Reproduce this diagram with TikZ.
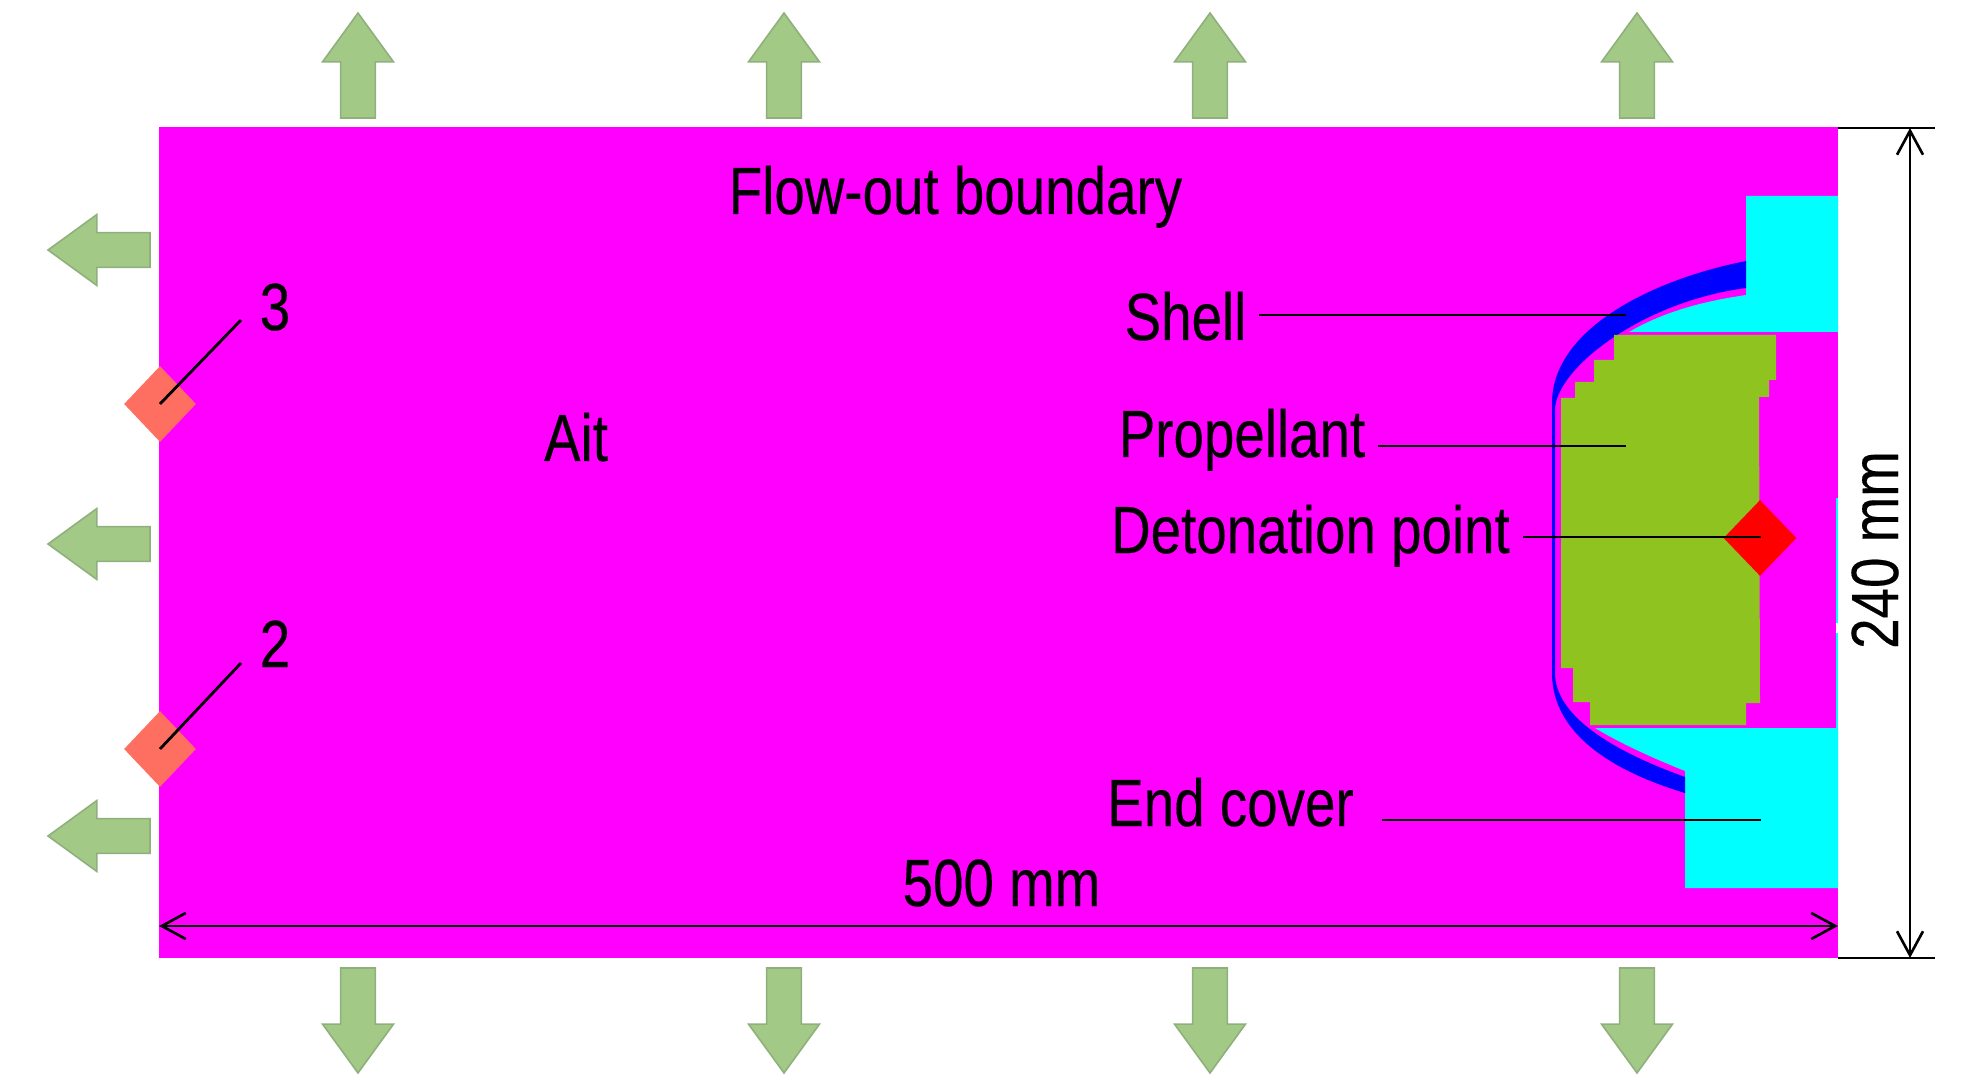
\documentclass[tikz,border=0pt]{standalone}
\usepackage{fontspec}
\setmainfont[FakeStretch=0.82,FakeBold=0.25]{Liberation Sans}
\usetikzlibrary{arrows.meta,shapes.geometric,shapes.arrows}
\definecolor{airfill}{HTML}{FF00FF}
\definecolor{coverfill}{HTML}{00FFFF}
\definecolor{shellfill}{HTML}{0000FF}
\definecolor{propfill}{HTML}{8FC31F}
\definecolor{gaugefill}{HTML}{FF6F61}
\definecolor{flowfill}{HTML}{A2C986}
\definecolor{flowline}{HTML}{8FAF7C}
\tikzset{
	lbl/.style={font=\fontsize{38}{46}\selectfont, text=black, inner ysep=0pt, inner xsep=.24cm},
	leader/.style={draw=black, line width=1.6pt},
	dimline/.style={draw=black, line width=1.5pt, line cap=round, {Straight Barb[length=.48cm,width=.52cm]}-{Straight Barb[length=.48cm,width=.52cm]}},
	extline/.style={draw=black, line width=1.5pt},
	flowarrow/.style={single arrow, fill=flowfill, draw=flowline, line width=.9pt, anchor=tail, inner ysep=.33cm, inner xsep=0pt, outer sep=0pt,
		minimum height=2.1cm, minimum width=1.42cm, single arrow head extend=.36cm, single arrow head indent=0pt, single arrow tip angle=72},
	gauge/.style={diamond, fill=gaugefill, inner sep=0pt, minimum width=1.44cm, minimum height=1.52cm},
}
\begin{document}
\begin{tikzpicture}[x=.02cm,y=-.02cm]
	\useasboundingbox (0,0) rectangle (1984,1087);

	% flow-out arrows
	\node[flowarrow, rotate=90] (up1) at (358,118) {};
	\node[flowarrow, rotate=90] (up2) at (784,118) {};
	\node[flowarrow, rotate=90] (up3) at (1210,118) {};
	\node[flowarrow, rotate=90] (up4) at (1637,118) {};
	\node[flowarrow, rotate=-90] (down1) at (358,968) {};
	\node[flowarrow, rotate=-90] (down2) at (784,968) {};
	\node[flowarrow, rotate=-90] (down3) at (1210,968) {};
	\node[flowarrow, rotate=-90] (down4) at (1637,968) {};
	\node[flowarrow, rotate=180, minimum height=2.04cm] (left1) at (150,250) {};
	\node[flowarrow, rotate=180, minimum height=2.04cm] (left2) at (150,544) {};
	\node[flowarrow, rotate=180, minimum height=2.04cm] (left3) at (150,836) {};

	% air domain
	\fill[airfill] (159,127) rectangle (1838,958);
	\fill[white] (1836,498) rectangle (1838,728);
	\fill[coverfill] (1836,498) rectangle (1838,623);
	\fill[coverfill] (1836,633) rectangle (1838,728);

	% end cover, two parts
	\fill[coverfill] (1746,196) -- (1838,196) -- (1838,332) -- (1629,332)
		.. controls (1665,311) and (1705,301) .. (1746,295) -- cycle;
	\fill[coverfill] (1595,728) -- (1838,728) -- (1838,888) -- (1685,888) -- (1685,771)
		.. controls (1650,757) and (1620,743) .. (1595,728) -- cycle;

	% shell
	\fill[shellfill] (1746,261) .. controls (1650,280) and (1552,330) .. (1552,403)
		-- (1552,673) .. controls (1552,735) and (1615,772) .. (1685,793)
		-- (1685,777) .. controls (1610,750) and (1555,715) .. (1555,673)
		-- (1555,410) .. controls (1555,370) and (1640,302) .. (1746,288) -- cycle;

	% propellant
	\fill[propfill] (1614,335) -- (1776,335) -- (1776,380) -- (1769,380) -- (1769,397) -- (1759,397) -- (1760,703)
		-- (1746,703) -- (1746,725) -- (1590,725) -- (1590,702) -- (1573,702) -- (1573,668) -- (1561,668)
		-- (1561,398) -- (1575,398) -- (1575,382) -- (1594,382) -- (1594,360) -- (1614,360) -- cycle;

	\node[diamond, fill=red, inner sep=0pt, minimum width=1.46cm, minimum height=1.52cm] (det) at (1760,538) {};
	\node[gauge] (g3) at (160,404) {};
	\node[gauge] (g2) at (160,749) {};

	% labels
	\node[lbl, anchor=base] (flow) at (955.5,214) {Flow-out boundary};
	\node[lbl, anchor=base] (ait) at (576,461) {Ait};
	\node[lbl, anchor=base] (shell) at (1185.5,340) {Shell};
	\node[lbl, anchor=base] (prop) at (1242,457) {Propellant};
	\node[lbl, anchor=base, inner xsep=.26cm] (detl) at (1310.5,553) {Detonation point};
	\node[lbl, anchor=base, inner xsep=.56cm] (cover) at (1230.5,826) {End cover};
	\node[lbl, anchor=base] (len) at (1001.5,906) {500 mm};
	\node[lbl, anchor=base, rotate=90] (high) at (1898,550) {240 mm};
	\node[lbl, anchor=base] (n3) at (275,330) {3};
	\node[lbl, anchor=base] (n2) at (275,667) {2};

	% leaders
	\coordinate (shellEnd) at (1626,315);
	\coordinate (propEnd) at (1626,446);
	\coordinate (detEnd) at (1761,537);
	\coordinate (coverEnd) at (1761,820);
	\coordinate (n3End) at (241,320);
	\coordinate (n2End) at (241,663);
	\draw[leader] (shell.east |- shellEnd) -- (shellEnd);
	\draw[leader] (prop.east |- propEnd) -- (propEnd);
	\draw[leader] (detl.east |- detEnd) -- (detEnd);
	\draw[leader] (cover.east |- coverEnd) -- (coverEnd);
	\draw[leader] (g3.center) -- (n3End);
	\draw[leader] (g2.center) -- (n2End);

	% dimensions
	\coordinate (lenA) at (159,926);
	\coordinate (lenB) at (1838,926);
	\coordinate (topA) at (1838,128);
	\coordinate (topB) at (1935,128);
	\coordinate (botA) at (1838,958);
	\coordinate (botB) at (1935,958);
	\coordinate (highA) at (1910,128);
	\coordinate (highB) at (1910,958);
	\draw[dimline] (lenA) -- (lenB);
	\draw[extline] (topA) -- (topB);
	\draw[extline] (botA) -- (botB);
	\draw[dimline] (highA) -- (highB);
\end{tikzpicture}
\end{document}
